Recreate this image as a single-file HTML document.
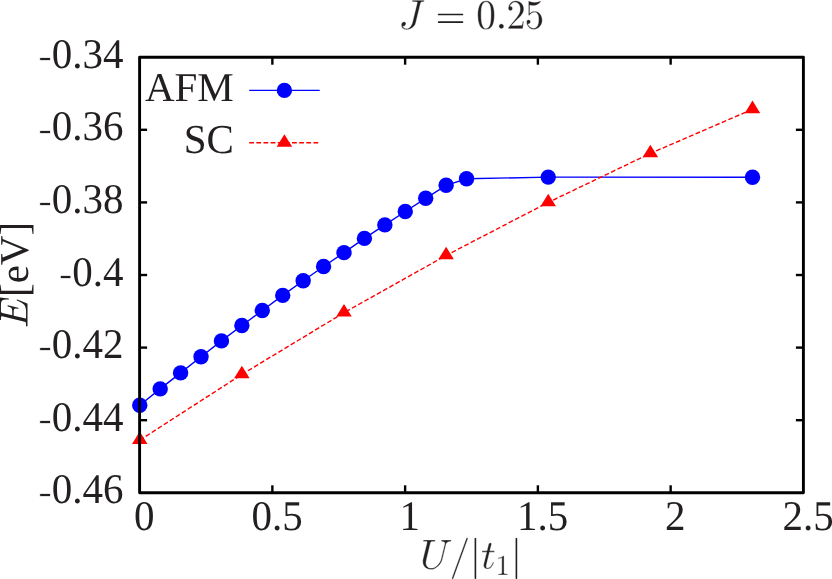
<!DOCTYPE html>
<html><head><meta charset="utf-8"><title>J = 0.25</title>
<style>html,body{margin:0;padding:0;background:#fff}body{width:832px;height:579px;position:relative;overflow:hidden;font-family:"Liberation Serif",serif}</style>
</head><body>
<svg width="832" height="579" viewBox="0 0 832 579" style="position:absolute;left:0;top:0;will-change:transform">
<polyline points="139.75,405.20 160.17,388.90 180.60,372.90 201.02,356.80 221.45,340.90 241.87,325.50 262.30,310.50 282.72,295.40 303.15,280.80 323.57,266.45 344.00,252.65 364.42,238.40 384.85,224.90 405.27,211.50 425.69,198.30 446.12,185.30 466.54,178.80 548.24,177.10 752.49,177.25" fill="none" stroke="#0000ff" stroke-width="1.4"/>
<polyline points="139.75,440.20 241.87,374.40 344.00,312.70 446.12,255.40 548.24,202.40 650.37,153.40 752.49,109.30" fill="none" stroke="#ff0000" stroke-width="1.4" stroke-dasharray="4.76 2.38"/>
<circle cx="139.75" cy="405.20" r="7.70" fill="#0000ff"/>
<circle cx="160.17" cy="388.90" r="7.70" fill="#0000ff"/>
<circle cx="180.60" cy="372.90" r="7.70" fill="#0000ff"/>
<circle cx="201.02" cy="356.80" r="7.70" fill="#0000ff"/>
<circle cx="221.45" cy="340.90" r="7.70" fill="#0000ff"/>
<circle cx="241.87" cy="325.50" r="7.70" fill="#0000ff"/>
<circle cx="262.30" cy="310.50" r="7.70" fill="#0000ff"/>
<circle cx="282.72" cy="295.40" r="7.70" fill="#0000ff"/>
<circle cx="303.15" cy="280.80" r="7.70" fill="#0000ff"/>
<circle cx="323.57" cy="266.45" r="7.70" fill="#0000ff"/>
<circle cx="344.00" cy="252.65" r="7.70" fill="#0000ff"/>
<circle cx="364.42" cy="238.40" r="7.70" fill="#0000ff"/>
<circle cx="384.85" cy="224.90" r="7.70" fill="#0000ff"/>
<circle cx="405.27" cy="211.50" r="7.70" fill="#0000ff"/>
<circle cx="425.69" cy="198.30" r="7.70" fill="#0000ff"/>
<circle cx="446.12" cy="185.30" r="7.70" fill="#0000ff"/>
<circle cx="466.54" cy="178.80" r="7.70" fill="#0000ff"/>
<circle cx="548.24" cy="177.10" r="7.70" fill="#0000ff"/>
<circle cx="752.49" cy="177.25" r="7.70" fill="#0000ff"/>
<path d="M139.75 431.52L132.00 444.07L147.50 444.07Z" fill="#ff0000"/>
<path d="M241.87 365.72L234.12 378.27L249.62 378.27Z" fill="#ff0000"/>
<path d="M344.00 304.02L336.25 316.57L351.75 316.57Z" fill="#ff0000"/>
<path d="M446.12 246.72L438.37 259.27L453.87 259.27Z" fill="#ff0000"/>
<path d="M548.24 193.72L540.49 206.27L555.99 206.27Z" fill="#ff0000"/>
<path d="M650.37 144.72L642.62 157.27L658.12 157.27Z" fill="#ff0000"/>
<path d="M752.49 100.62L744.74 113.17L760.24 113.17Z" fill="#ff0000"/>
<line x1="249.2" y1="90.4" x2="319.7" y2="90.4" stroke="#0000ff" stroke-width="1.4"/>
<circle cx="284.40" cy="90.40" r="7.70" fill="#0000ff"/>
<line x1="249.2" y1="142.8" x2="319.7" y2="142.8" stroke="#ff0000" stroke-width="1.4" stroke-dasharray="4.76 2.38"/>
<path d="M284.40 134.22L276.65 146.78L292.15 146.78Z" fill="#ff0000"/>
<line x1="139.60" y1="129.80" x2="147.10" y2="129.80" stroke="#000" stroke-width="2.40"/>
<line x1="803.40" y1="129.80" x2="795.90" y2="129.80" stroke="#000" stroke-width="2.40"/>
<line x1="139.60" y1="202.40" x2="147.10" y2="202.40" stroke="#000" stroke-width="2.40"/>
<line x1="803.40" y1="202.40" x2="795.90" y2="202.40" stroke="#000" stroke-width="2.40"/>
<line x1="139.60" y1="275.00" x2="147.10" y2="275.00" stroke="#000" stroke-width="2.40"/>
<line x1="803.40" y1="275.00" x2="795.90" y2="275.00" stroke="#000" stroke-width="2.40"/>
<line x1="139.60" y1="347.60" x2="147.10" y2="347.60" stroke="#000" stroke-width="2.40"/>
<line x1="803.40" y1="347.60" x2="795.90" y2="347.60" stroke="#000" stroke-width="2.40"/>
<line x1="139.60" y1="420.20" x2="147.10" y2="420.20" stroke="#000" stroke-width="2.40"/>
<line x1="803.40" y1="420.20" x2="795.90" y2="420.20" stroke="#000" stroke-width="2.40"/>
<line x1="272.36" y1="492.80" x2="272.36" y2="485.30" stroke="#000" stroke-width="2.40"/>
<line x1="272.36" y1="57.20" x2="272.36" y2="64.70" stroke="#000" stroke-width="2.40"/>
<line x1="405.12" y1="492.80" x2="405.12" y2="485.30" stroke="#000" stroke-width="2.40"/>
<line x1="405.12" y1="57.20" x2="405.12" y2="64.70" stroke="#000" stroke-width="2.40"/>
<line x1="537.88" y1="492.80" x2="537.88" y2="485.30" stroke="#000" stroke-width="2.40"/>
<line x1="537.88" y1="57.20" x2="537.88" y2="64.70" stroke="#000" stroke-width="2.40"/>
<line x1="670.64" y1="492.80" x2="670.64" y2="485.30" stroke="#000" stroke-width="2.40"/>
<line x1="670.64" y1="57.20" x2="670.64" y2="64.70" stroke="#000" stroke-width="2.40"/>
<rect x="139.60" y="57.20" width="663.80" height="435.60" fill="none" stroke="#000" stroke-width="2.9" stroke-linejoin="round"/>
<text transform="translate(123.6 67.80) scale(1 1.03)" text-anchor="end" style="font-family:'Liberation Serif',serif;font-size:41px;fill:#231f20;text-rendering:geometricPrecision"><tspan dy="1.1" stroke="#fff" stroke-width="0.7">-</tspan><tspan dy="-1.1">0.34</tspan></text>
<text transform="translate(123.6 140.40) scale(1 1.03)" text-anchor="end" style="font-family:'Liberation Serif',serif;font-size:41px;fill:#231f20;text-rendering:geometricPrecision"><tspan dy="1.1" stroke="#fff" stroke-width="0.7">-</tspan><tspan dy="-1.1">0.36</tspan></text>
<text transform="translate(123.6 213.00) scale(1 1.03)" text-anchor="end" style="font-family:'Liberation Serif',serif;font-size:41px;fill:#231f20;text-rendering:geometricPrecision"><tspan dy="1.1" stroke="#fff" stroke-width="0.7">-</tspan><tspan dy="-1.1">0.38</tspan></text>
<text transform="translate(123.6 285.60) scale(1 1.03)" text-anchor="end" style="font-family:'Liberation Serif',serif;font-size:41px;fill:#231f20;text-rendering:geometricPrecision"><tspan dy="1.1" stroke="#fff" stroke-width="0.7">-</tspan><tspan dy="-1.1">0.4</tspan></text>
<text transform="translate(123.6 358.20) scale(1 1.03)" text-anchor="end" style="font-family:'Liberation Serif',serif;font-size:41px;fill:#231f20;text-rendering:geometricPrecision"><tspan dy="1.1" stroke="#fff" stroke-width="0.7">-</tspan><tspan dy="-1.1">0.42</tspan></text>
<text transform="translate(123.6 430.80) scale(1 1.03)" text-anchor="end" style="font-family:'Liberation Serif',serif;font-size:41px;fill:#231f20;text-rendering:geometricPrecision"><tspan dy="1.1" stroke="#fff" stroke-width="0.7">-</tspan><tspan dy="-1.1">0.44</tspan></text>
<text transform="translate(123.6 503.40) scale(1 1.03)" text-anchor="end" style="font-family:'Liberation Serif',serif;font-size:41px;fill:#231f20;text-rendering:geometricPrecision"><tspan dy="1.1" stroke="#fff" stroke-width="0.7">-</tspan><tspan dy="-1.1">0.46</tspan></text>
<text transform="translate(144.30 529.7) scale(1 1.03)" text-anchor="middle" style="font-family:'Liberation Serif',serif;font-size:41px;fill:#231f20;text-rendering:geometricPrecision">0</text>
<text transform="translate(277.06 529.7) scale(1 1.03)" text-anchor="middle" style="font-family:'Liberation Serif',serif;font-size:41px;fill:#231f20;text-rendering:geometricPrecision">0.5</text>
<text transform="translate(409.82 529.7) scale(1 1.03)" text-anchor="middle" style="font-family:'Liberation Serif',serif;font-size:41px;fill:#231f20;text-rendering:geometricPrecision">1</text>
<text transform="translate(542.58 529.7) scale(1 1.03)" text-anchor="middle" style="font-family:'Liberation Serif',serif;font-size:41px;fill:#231f20;text-rendering:geometricPrecision">1.5</text>
<text transform="translate(675.34 529.7) scale(1 1.03)" text-anchor="middle" style="font-family:'Liberation Serif',serif;font-size:41px;fill:#231f20;text-rendering:geometricPrecision">2</text>
<text transform="translate(808.10 529.7) scale(1 1.03)" text-anchor="middle" style="font-family:'Liberation Serif',serif;font-size:41px;fill:#231f20;text-rendering:geometricPrecision">2.5</text>
<text x="233.8" y="100.6" text-anchor="end" style="font-family:'Liberation Serif',serif;font-size:41px;fill:#231f20;text-rendering:geometricPrecision">AFM</text>
<text x="233.8" y="152.5" text-anchor="end" style="font-family:'Liberation Serif',serif;font-size:41px;fill:#231f20;text-rendering:geometricPrecision">SC</text>
<text transform="translate(27.5 297.0) rotate(-90)" x="0" y="0" style="font-family:'Liberation Serif',serif;font-size:41px;fill:#231f20;text-rendering:geometricPrecision">[eV]</text>
<path transform="matrix(0.01872 0 0 -0.01906 435.647 28.085)" d="M154 272Q137 272 126 285Q115 298 115 313Q115 330 126 342Q137 354 154 354H1440Q1455 354 1466 342Q1477 330 1477 313Q1477 298 1466 285Q1455 272 1440 272ZM154 670Q137 670 126 682Q115 694 115 711Q115 726 126 739Q137 752 154 752H1440Q1455 752 1466 739Q1477 726 1477 711Q1477 694 1466 682Q1455 670 1440 670Z" fill="#231f20"/>
<path transform="matrix(0.01991 0 0 -0.02043 398.492 28.781)" d="M223 123Q243 66 297 37Q351 8 414 8Q478 8 538 52Q597 97 638 164Q680 231 696 297L938 1266Q940 1274 940 1278Q941 1282 942 1286Q942 1308 926 1313Q872 1327 707 1327Q686 1327 686 1354Q690 1370 692 1379Q695 1388 702 1394Q708 1399 721 1399H1276Q1296 1399 1296 1372Q1288 1327 1270 1327Q1198 1327 1161 1316Q1124 1305 1110 1257L868 289Q845 194 774 118Q704 41 607 -2Q510 -45 412 -45Q304 -45 222 15Q141 75 141 178Q141 246 178 295Q215 344 283 344Q322 344 348 320Q375 296 375 258Q375 203 334 162Q293 121 238 121Q227 121 223 123Z" fill="#231f20" stroke="#fff" stroke-width="0.40" vector-effect="non-scaling-stroke"/>
<path transform="matrix(0.01937 0 0 -0.02037 476.150 28.583)" d="M512 -45Q261 -45 170 162Q80 368 80 653Q80 831 112 988Q145 1145 242 1254Q338 1364 512 1364Q647 1364 733 1298Q819 1232 864 1128Q909 1023 926 904Q942 784 942 653Q942 477 910 324Q877 170 782 62Q687 -45 512 -45ZM512 8Q626 8 682 125Q738 242 751 384Q764 526 764 686Q764 840 751 970Q738 1100 682 1206Q627 1311 512 1311Q396 1311 340 1205Q284 1099 271 970Q258 840 258 686Q258 572 264 471Q269 370 293 262Q317 155 370 82Q424 8 512 8Z" fill="#231f20" stroke="#fff" stroke-width="0.40" vector-effect="non-scaling-stroke"/>
<path transform="matrix(0.02200 0 0 -0.02222 495.116 28.800)" d="M172 113Q172 159 206 192Q240 225 285 225Q313 225 340 210Q367 195 382 168Q397 141 397 113Q397 68 364 34Q331 0 285 0Q240 0 206 34Q172 68 172 113Z" fill="#231f20" stroke="#fff" stroke-width="0.40" vector-effect="non-scaling-stroke"/>
<path transform="matrix(0.01901 0 0 -0.02053 506.361 28.800)" d="M102 0V55Q102 60 106 66L424 418Q496 496 541 549Q586 602 630 671Q674 740 700 812Q725 883 725 963Q725 1047 694 1124Q663 1200 602 1246Q540 1292 453 1292Q364 1292 293 1238Q222 1185 193 1100Q201 1102 215 1102Q261 1102 294 1071Q326 1040 326 991Q326 944 294 912Q261 879 215 879Q167 879 134 912Q102 946 102 991Q102 1068 131 1136Q160 1203 214 1256Q269 1308 338 1336Q406 1364 483 1364Q600 1364 701 1314Q802 1265 861 1174Q920 1084 920 963Q920 874 881 794Q842 714 781 648Q720 583 625 500Q530 417 500 389L268 166H465Q610 166 708 168Q805 171 811 176Q835 202 860 365H920L862 0Z" fill="#231f20" stroke="#fff" stroke-width="0.40" vector-effect="non-scaling-stroke"/>
<path transform="matrix(0.01932 0 0 -0.02030 524.530 28.587)" d="M178 233Q199 173 242 124Q286 75 346 48Q405 20 469 20Q617 20 673 135Q729 250 729 414Q729 485 726 534Q724 582 713 627Q694 699 646 753Q599 807 530 807Q461 807 412 786Q362 765 331 737Q300 709 276 678Q252 647 246 645H223Q218 645 210 652Q203 658 203 664V1348Q203 1353 210 1358Q216 1364 223 1364H229Q367 1298 522 1298Q674 1298 815 1364H821Q828 1364 834 1359Q840 1354 840 1348V1329Q840 1319 836 1319Q766 1226 660 1174Q555 1122 442 1122Q360 1122 274 1145V758Q342 813 396 836Q449 860 532 860Q645 860 734 795Q824 730 872 626Q920 521 920 412Q920 289 860 184Q799 79 695 17Q591 -45 469 -45Q368 -45 284 7Q199 59 150 147Q102 235 102 334Q102 380 132 409Q162 438 207 438Q252 438 282 408Q313 379 313 334Q313 290 282 260Q252 229 207 229Q200 229 191 230Q182 232 178 233Z" fill="#231f20" stroke="#fff" stroke-width="0.40" vector-effect="non-scaling-stroke"/>
<path transform="matrix(0.02002 0 0 -0.02057 419.997 568.674)" d="M301 285Q301 210 330 151Q360 92 416 60Q472 27 547 27Q635 27 718 63Q802 99 869 163Q936 227 984 309Q1031 391 1051 471L1235 1210Q1239 1232 1239 1241Q1239 1327 1081 1327Q1061 1327 1061 1354Q1068 1380 1072 1390Q1076 1399 1096 1399H1540Q1549 1399 1555 1390Q1561 1381 1561 1372Q1561 1371 1557 1356Q1553 1342 1548 1334Q1542 1327 1534 1327Q1338 1327 1307 1202L1122 463Q1099 367 1044 276Q990 186 910 112Q831 39 736 -3Q640 -45 541 -45Q428 -45 334 4Q241 54 188 143Q135 232 135 348Q135 415 150 471L348 1266Q352 1286 352 1294Q352 1316 328 1319Q289 1327 180 1327Q160 1327 160 1354Q167 1380 171 1390Q175 1399 195 1399H745Q766 1399 766 1372Q765 1367 762 1355Q759 1343 754 1335Q749 1327 739 1327Q614 1327 565 1313Q538 1303 526 1257L328 463Q301 355 301 285Z" fill="#231f20" stroke="#fff" stroke-width="0.40" vector-effect="non-scaling-stroke"/>
<path transform="matrix(0.02033 0 0 -0.02021 449.462 568.750)" d="M115 -471Q115 -465 117 -463L829 1511Q833 1523 843 1530Q853 1536 866 1536Q884 1536 896 1525Q907 1514 907 1495V1487L195 -487Q183 -512 156 -512Q139 -512 127 -500Q115 -488 115 -471Z" fill="#231f20" stroke="#fff" stroke-width="0.40" vector-effect="non-scaling-stroke"/>
<path transform="matrix(0.01951 0 0 -0.02002 469.839 568.650)" d="M244 -475V1499Q244 1515 256 1526Q268 1536 285 1536Q300 1536 313 1526Q326 1515 326 1499V-475Q326 -491 313 -502Q300 -512 285 -512Q268 -512 256 -502Q244 -491 244 -475Z" fill="#231f20"/>
<path transform="matrix(0.01997 0 0 -0.02015 481.001 568.636)" d="M127 166Q127 196 133 223L281 811H66Q45 811 45 838Q53 883 72 883H299L381 1217Q389 1244 413 1263Q437 1282 467 1282Q493 1282 510 1266Q528 1251 528 1225Q528 1219 528 1216Q527 1212 526 1208L444 883H655Q676 883 676 856Q675 851 672 839Q669 827 664 819Q659 811 649 811H426L279 219Q264 161 264 119Q264 31 324 31Q414 31 484 116Q553 200 590 301Q598 313 606 313H631Q639 313 644 308Q649 302 649 295Q649 291 647 289Q602 165 516 71Q430 -23 319 -23Q238 -23 182 30Q127 83 127 166Z" fill="#231f20" stroke="#fff" stroke-width="0.40" vector-effect="non-scaling-stroke"/>
<path transform="matrix(0.01418 0 0 -0.01400 495.476 574.900)" d="M190 0V72Q446 72 446 137V1212Q340 1161 178 1161V1233Q429 1233 557 1364H586Q593 1364 600 1358Q606 1353 606 1346V137Q606 72 862 72V0Z" fill="#231f20" stroke="#fff" stroke-width="0.40" vector-effect="non-scaling-stroke"/>
<path transform="matrix(0.01951 0 0 -0.02002 510.839 568.650)" d="M244 -475V1499Q244 1515 256 1526Q268 1536 285 1536Q300 1536 313 1526Q326 1515 326 1499V-475Q326 -491 313 -502Q300 -512 285 -512Q268 -512 256 -502Q244 -491 244 -475Z" fill="#231f20"/>
<path transform="matrix(0.00000 -0.01948 -0.02001 0.00000 27.500 327.980)" d="M96 0Q76 0 76 27Q77 32 80 44Q83 57 88 64Q94 72 102 72Q227 72 276 86Q303 95 315 141L596 1266Q600 1286 600 1294Q600 1316 575 1319Q537 1327 428 1327Q408 1327 408 1354Q409 1359 412 1372Q415 1384 420 1392Q426 1399 434 1399H1544Q1565 1399 1565 1372L1516 948Q1516 943 1508 936Q1501 930 1495 930H1477Q1456 930 1456 956Q1468 1056 1468 1104Q1468 1186 1440 1232Q1412 1277 1366 1297Q1319 1317 1262 1322Q1206 1327 1114 1327H881Q825 1327 807 1318Q789 1308 774 1257L651 762H811Q915 762 968 776Q1021 791 1052 837Q1083 883 1108 983Q1110 990 1116 996Q1121 1001 1128 1001H1147Q1167 1001 1167 975L1040 469Q1036 451 1020 451H1001Q981 451 981 477Q1001 559 1001 598Q1001 658 947 674Q893 690 803 690H633L494 133Q485 108 485 88Q485 72 555 72H803Q951 72 1043 95Q1135 118 1196 168Q1256 219 1300 297Q1344 375 1407 524Q1411 537 1425 537H1444Q1452 537 1458 530Q1464 523 1464 514Q1464 510 1462 506L1251 12Q1247 0 1235 0Z" fill="#231f20"/>
</svg>
</body></html>
